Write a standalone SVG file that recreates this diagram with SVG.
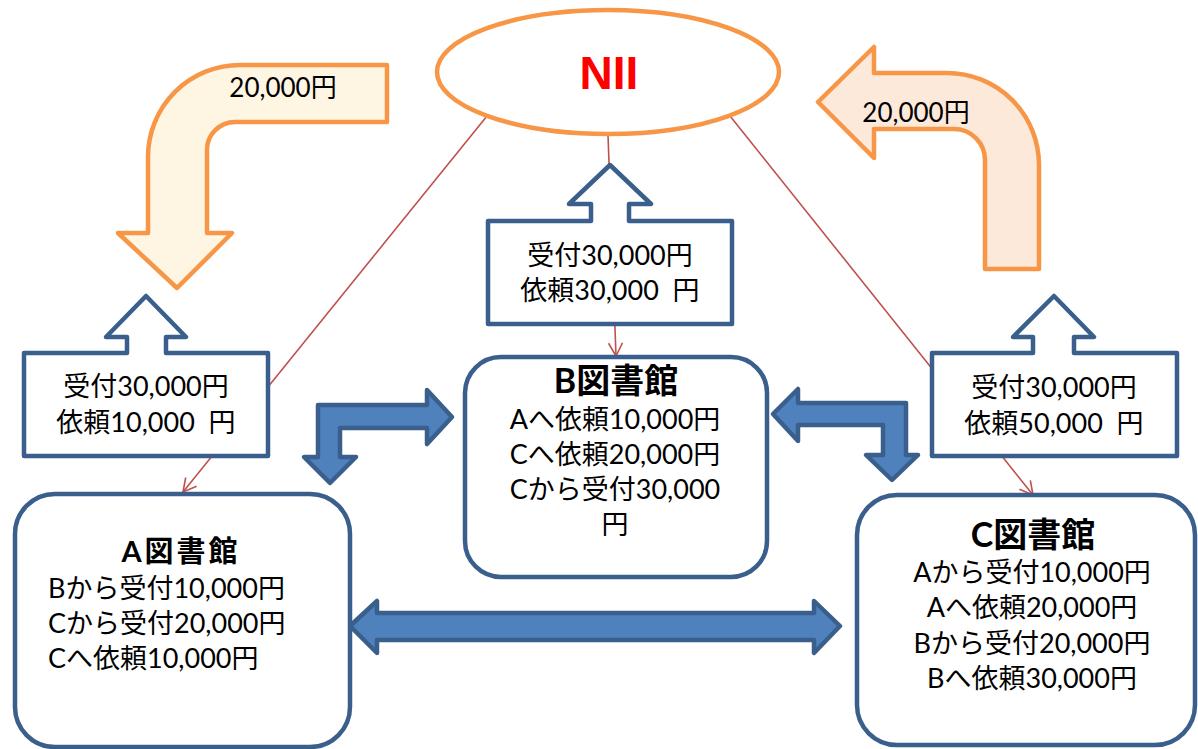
<svg xmlns="http://www.w3.org/2000/svg" width="1198" height="749" viewBox="0 0 1198 749">
  <defs>
    <marker id="open-arrow" markerUnits="userSpaceOnUse" markerWidth="16" markerHeight="16" viewBox="0 0 16 16" refX="14" refY="8" orient="auto">
      <path d="M1,1 L14,8 L1,15" fill="none" stroke="#C0504D" stroke-width="1.6"/>
    </marker>
  </defs>
  <style>
    text { font-family: Lato, "Noto Sans CJK JP", sans-serif; fill: #000; }
    .t { font-size: 27px; }
    .title { font-weight: bold; }
    .mid { text-anchor: middle; }
    .conn { stroke: #C0504D; stroke-width: 1.6; fill: none; }
    .callout { fill: #FFFFFF; stroke: #3A5F8C; stroke-width: 4.5; stroke-linejoin: round; }
    .box { fill: #FFFFFF; stroke: #3A5F8C; stroke-width: 4.5; }
    .flow { fill: #4F81BD; stroke: #3A5F8C; stroke-width: 4.5; stroke-linejoin: round; }
    .orange { stroke: #F79646; stroke-width: 4.5; stroke-linejoin: round; }
  </style>
  <rect width="1198" height="749" fill="#FFFFFF"/>

  <g id="connectors">
    <line class="conn" x1="487" y1="116" x2="183" y2="492" marker-end="url(#open-arrow)"/>
    <line class="conn" x1="608" y1="135" x2="616" y2="356" marker-end="url(#open-arrow)"/>
    <line class="conn" x1="730" y1="116" x2="1033" y2="495" marker-end="url(#open-arrow)"/>
  </g>

  <g id="nii">
    <ellipse cx="608" cy="72" rx="171" ry="62" fill="#FFFFFF" stroke="#F79646" stroke-width="4.5"/>
    <text x="609" y="89" text-anchor="middle" style="font-family: 'Liberation Sans', Arial, sans-serif; font-size: 46px; font-weight: bold; fill: #FF0000;">NII</text>
  </g>

  <g id="nii-to-a-arrow">
    <path class="orange" fill="#FEF5E3" d="M387,65 L240,65 A92,92 0 0 0 148,157 L148,233 L118,233 L177,288 L232,233 L207,233 L207,150 A28,28 0 0 1 235,122 L387,122 Z"/>
    <text class="t mid" x="283" y="97" style="font-size:26px">20,000円</text>
  </g>

  <g id="c-to-nii-arrow">
    <path class="orange" fill="#FDE9D9" d="M818,102 L874,47 L874,73 L947,73 A92,92 0 0 1 1039,165 L1039,269 L985,269 L985,160 A31,31 0 0 0 954,129 L874,129 L874,158 Z"/>
    <text class="t mid" x="916" y="122" style="font-size:26px">20,000円</text>
  </g>

  <g id="callout-a">
    <path class="callout" d="M24,353 L127,353 L127,337 L106,337 L146,296 L186,337 L166,337 L166,353 L268,353 L268,456 L24,456 Z"/>
    <text class="t mid" x="146" y="396">受付30,000円</text>
    <text class="t mid" x="146" y="432" xml:space="preserve">依頼10,000  円</text>
  </g>

  <g id="callout-b">
    <path class="callout" d="M488,221 L591,221 L591,204 L569,204 L610,165 L651,204 L629,204 L629,221 L732,221 L732,324 L488,324 Z"/>
    <text class="t mid" x="610" y="265">受付30,000円</text>
    <text class="t mid" x="610" y="300" xml:space="preserve">依頼30,000  円</text>
  </g>

  <g id="callout-c">
    <path class="callout" d="M932,353 L1033,353 L1033,337 L1013,337 L1054,296 L1094,337 L1074,337 L1074,353 L1177,353 L1177,456 L932,456 Z"/>
    <text class="t mid" x="1054" y="397">受付30,000円</text>
    <text class="t mid" x="1054" y="433" xml:space="preserve">依頼50,000  円</text>
  </g>

  <g id="flow-arrows">
    <path id="flow-a-b" class="flow" d="M330,483 L304,457 L318,457 L318,405 L427,405 L427,390 L452,417 L427,444 L427,428 L340,428 L340,457 L356,457 Z"/>
    <path id="flow-b-c" class="flow" d="M892,480 L866,455 L883,455 L883,425 L798,425 L798,441 L773,414 L798,389 L798,403 L906,403 L906,455 L918,455 Z"/>
    <path id="flow-a-c" class="flow" d="M350,626 L377,601 L377,613 L814,613 L814,601 L840,626 L814,653 L814,640 L377,640 L377,653 Z"/>
  </g>

  <g id="library-a">
    <rect class="box" x="15" y="494" width="335" height="253" rx="40" ry="40"/>
    <text class="t title mid" x="181" y="562" style="font-size:29px; letter-spacing:3px">A図書館</text>
    <text class="t" x="48" y="598">Bから受付10,000円</text>
    <text class="t" x="48" y="633">Cから受付20,000円</text>
    <text class="t" x="48" y="668">Cへ依頼10,000円</text>
  </g>

  <g id="library-b">
    <rect class="box" x="465" y="357" width="302" height="220" rx="36" ry="36"/>
    <text class="t title mid" x="616" y="393" style="font-size:34px">B図書館</text>
    <text class="t mid" x="615" y="429">Aへ依頼10,000円</text>
    <text class="t mid" x="615" y="464">Cへ依頼20,000円</text>
    <text class="t mid" x="615" y="499">Cから受付30,000</text>
    <text class="t mid" x="615" y="534">円</text>
  </g>

  <g id="library-c">
    <rect class="box" x="857" y="495" width="338" height="250" rx="40" ry="40"/>
    <text class="t title mid" x="1033" y="547" style="font-size:34px">C図書館</text>
    <text class="t mid" x="1032" y="582">Aから受付10,000円</text>
    <text class="t mid" x="1032" y="617">Aへ依頼20,000円</text>
    <text class="t mid" x="1032" y="653">Bから受付20,000円</text>
    <text class="t mid" x="1032" y="688">Bへ依頼30,000円</text>
  </g>
</svg>
